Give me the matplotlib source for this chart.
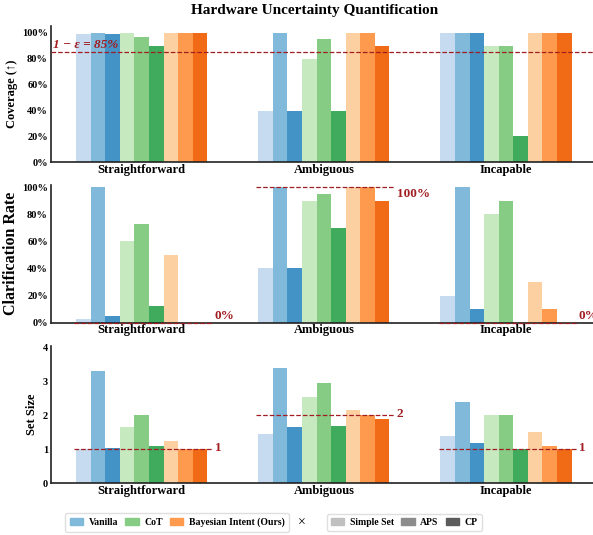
import numpy as np
import matplotlib
matplotlib.use("Agg")
import matplotlib.pyplot as plt
from matplotlib.patches import Patch
from matplotlib.ticker import PercentFormatter

plt.rcParams['font.family'] = ['Liberation Serif', 'DejaVu Serif']
plt.rcParams['font.weight'] = 'bold'

groups = ['Straightforward', 'Ambiguous', 'Incapable']
methods = ['Vanilla', 'CoT', 'Bayesian Intent (Ours)']
variants = ['Simple Set', 'APS', 'CP']

# values per group: [Vanilla(S, APS, CP), CoT(S, APS, CP), Bayesian(S, APS, CP)]
coverage = [
    [0.99, 1.00, 0.99, 1.00, 0.97, 0.90, 1.00, 1.00, 1.00],
    [0.40, 1.00, 0.40, 0.80, 0.95, 0.40, 1.00, 1.00, 0.90],
    [1.00, 1.00, 1.00, 0.90, 0.90, 0.20, 1.00, 1.00, 1.00],
]
clarification = [
    [0.027, 1.00, 0.05, 0.60, 0.73, 0.12, 0.50, 0.0, 0.0],
    [0.40, 1.00, 0.40, 0.90, 0.95, 0.70, 1.00, 1.00, 0.90],
    [0.20, 1.00, 0.10, 0.80, 0.90, 0.0, 0.30, 0.10, 0.0],
]
set_size = [
    [1.00, 3.30, 1.04, 1.65, 2.00, 1.10, 1.25, 1.00, 1.00],
    [1.45, 3.40, 1.65, 2.55, 2.95, 1.68, 2.15, 2.00, 1.90],
    [1.40, 2.40, 1.20, 2.00, 2.00, 1.00, 1.50, 1.10, 1.00],
]
clar_targets = [0.0, 1.0, 0.0]
clar_target_labels = ['0%', '100%', '0%']
size_targets = [1, 2, 1]
size_target_labels = ['1', '2', '1']
coverage_target = 0.85

colors = ['#c6dbef', '#80b9da', '#4393c6',
          '#c7e9c0', '#86cc85', '#41ab5d',
          '#fdd0a2', '#fd9a4d', '#f16b16']
method_colors = ['#80b9da', '#86cc85', '#fd9a4d']
variant_colors = ['#c0c0c0', '#8c8c8c', '#5c5c5c']
red = '#a11d21'

fig = plt.figure(figsize=(5.93, 5.35), dpi=100)
L, W = 0.0855, 0.9145
ax1 = fig.add_axes([L, 0.6966, W, 0.2548])
ax2 = fig.add_axes([L, 0.3968, W, 0.2574])
ax3 = fig.add_axes([L, 0.0966, W, 0.2567])

x = np.arange(len(groups))
bw = 0.08
offsets = (np.arange(9) - 4) * bw


def draw(ax, data, ylim):
    data = np.array(data)
    for j in range(9):
        ax.bar(x + offsets[j], data[:, j], width=bw, color=colors[j], zorder=2)
    ax.set_xlim(-0.5, 2.478)
    ax.set_ylim(*ylim)
    ax.set_xticks(x)
    ax.set_xticklabels(groups, fontweight='bold')
    ax.tick_params(axis='y', length=0, labelsize=7.5, pad=2)
    ax.tick_params(axis='x', length=0, labelsize=9, pad=1)
    for s in ['top', 'right']:
        ax.spines[s].set_visible(False)
    for s in ['left', 'bottom']:
        ax.spines[s].set_linewidth(1.2)
        ax.spines[s].set_color('#222222')
    for lab in ax.get_yticklabels():
        lab.set_fontweight('bold')


draw(ax1, coverage, (0, 1.054))
ax1.set_yticks(np.arange(0, 1.01, 0.2))
ax1.yaxis.set_major_formatter(PercentFormatter(1.0, decimals=0))
ax1.axhline(coverage_target, color=red, ls='--', lw=0.9, zorder=3)
ax1.text(-0.485, 0.905, '1 − ε = 85%', color=red, fontsize=9.5,
         fontweight='bold', style='italic', va='center', ha='left')
ax1.set_ylabel('Coverage (↑)', fontsize=9, fontweight='bold')
ax1.yaxis.set_label_coords(-0.060, 0.5)

draw(ax2, clarification, (0, 1.015))
ax2.set_yticks(np.arange(0, 1.01, 0.2))
ax2.yaxis.set_major_formatter(PercentFormatter(1.0, decimals=0))
for i in range(3):
    ax2.hlines(clar_targets[i], x[i] - 0.37, x[i] + 0.39, color=red, ls='--', lw=0.9,
               zorder=3, clip_on=False)
    ty = clar_targets[i] + (0.05 if clar_targets[i] == 0 else -0.05)
    ax2.text(x[i] + 0.40, ty, clar_target_labels[i], color=red, fontsize=9.5,
             fontweight='bold', va='center', ha='left')
ax2.set_ylabel('Clarification Rate', fontsize=11.5, fontweight='bold')
ax2.yaxis.set_label_coords(-0.058, 0.5)

draw(ax3, set_size, (0, 4.05))
ax3.set_yticks([0, 1, 2, 3, 4])
for i in range(3):
    ax3.hlines(size_targets[i], x[i] - 0.37, x[i] + 0.39, color=red, ls='--', lw=0.9, zorder=3)
    ax3.text(x[i] + 0.40, size_targets[i] + 0.05, size_target_labels[i], color=red,
             fontsize=9.5, fontweight='bold', va='center', ha='left')
ax3.set_ylabel('Set Size', fontsize=9, fontweight='bold')
ax3.yaxis.set_label_coords(-0.023, 0.5)

fig.text(0.53, 0.981, 'Hardware Uncertainty Quantification', fontsize=11,
         fontweight='bold', ha='center', va='center')

h1 = [Patch(color=c, label=m) for c, m in zip(method_colors, methods)]
h2 = [Patch(color=c, label=v) for c, v in zip(variant_colors, variants)]
leg_kw = dict(ncol=3, frameon=True, handlelength=1.35, handleheight=0.75,
              columnspacing=0.75, handletextpad=0.6, borderpad=0.45, borderaxespad=0,
              fancybox=True, edgecolor='#d8d8d8', prop={'weight': 'bold', 'size': 7})
fig.legend(handles=h1, loc='center', bbox_to_anchor=(0.299, 0.0234), **leg_kw)
fig.legend(handles=h2, loc='center', bbox_to_anchor=(0.682, 0.0234), **leg_kw)
fig.text(0.509, 0.0215, '×', fontsize=10, ha='center', va='center', fontweight='normal')

fig.savefig('out.png', dpi=100)
